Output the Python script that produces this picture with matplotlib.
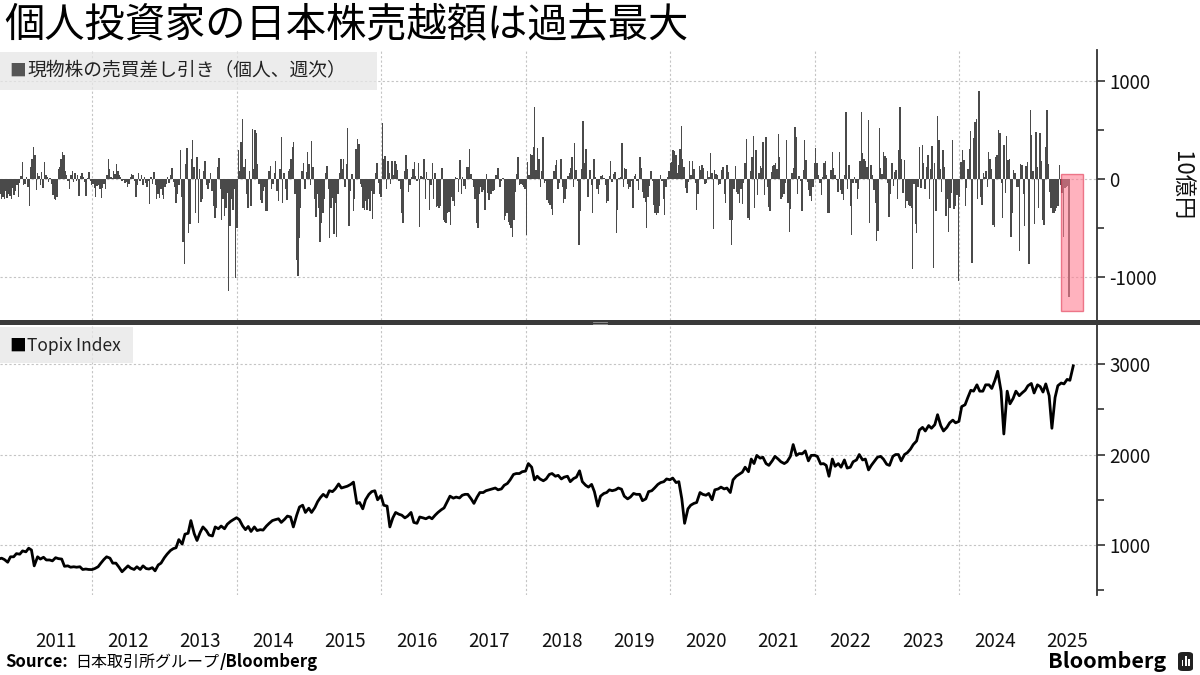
import numpy as np
import pandas as pd
import matplotlib
matplotlib.use('Agg')
import matplotlib.pyplot as plt
import matplotlib.dates as mdates
from matplotlib.patches import Rectangle, FancyBboxPatch
from matplotlib.ticker import MultipleLocator, FixedLocator, NullFormatter

plt.rcParams['font.family'] = ['Noto Sans CJK JP', 'DejaVu Sans']
plt.rcParams['axes.unicode_minus'] = False

# 個人の現物株売買差し引き（週次、10億円） 2010-09-24 から
net_flow = [
    -150, -200, -180, -210, -120, -190, -150, -170, -200, -90, -160, -120, -60, -180, -40,
    30, 177, -60, -50, 20, -80, -280, 120, 210, 330, 250, -110, 60, 30, -60,
    70, -90, 170, 40, 20, -30, 10, -50, -160, -200, -220, -180, 100, 120, 200,
    280, 250, 80, 40, -20, -100, 40, 80, -30, 60, -20, 40, -170, 30, 60,
    20, -30, -170, 10, 70, -20, -60, -50, -90, -180, -70, -60, -100, -190, -90,
    -50, -100, 40, 200, 100, 20, 10, 80, 50, 150, 80, 40, 20, -20, -10,
    -40, -30, -80, -50, 20, 50, 40, -20, -180, -60, 60, -20, 40, -60, 20,
    -40, -80, -20, -260, 20, -50, 70, -60, -200, -150, -190, -100, -160, -210, -80,
    -50, 20, -40, 40, 110, -30, -80, -250, -150, -60, 300, -180, -650, -870, 150,
    315, -550, -460, 200, 395, 120, -350, 230, -450, 100, -240, -200, 80, 180, -60,
    -100, -40, 60, -120, -280, -400, -300, 120, 220, -100, -420, -200, -380, -300, -140,
    -1150, -480, -200, -320, -100, -1010, -500, 300, 80, 380, 610, 120, 200, -150, -300,
    80, -280, 510, 100, 500, 475, 150, -50, -220, -250, -120, -80, -330, -330, 80,
    130, -100, -50, 60, 180, -120, -230, 100, 430, -250, 60, -100, -220, 80, 100,
    200, 330, 380, -150, -830, -990, -600, -300, 80, 160, -100, 70, 280, 150, -60,
    390, 120, -200, -385, -150, -300, -650, -450, -350, -200, 60, 130, -100, -600, -300,
    -190, -560, -250, -590, -150, 60, 200, 100, 210, -80, 150, 520, -480, -120, 50,
    -330, -200, 310, 410, 360, -50, -80, -300, -320, -230, -320, -210, -330, -120, -410,
    -150, 60, 160, -40, -150, -180, 570, 200, 240, -100, 180, 60, -50, 180, 40,
    180, 150, 90, -20,
    -100, -350, -450, 80, 250, 100, -130, -60, 20, 100, 170, 30, -20, 160, -490,
    30, 20, 210, -200, 70, -10, -320, -60, 160, -200, 60, -290, -280, -300, -280,
    110, -420, -440, -450, -350, -340, -475, -180, -230, -280, 20, 10, -130, 195, -150,
    20, -70, -100, 120, 120, 310, 50, -10, -80, -200, -450, -500, -150, -80, -130,
    -110, -320, 50, -140, -220, -150, -150, -120, -110, 40, 110, 110, -80, -20, 10,
    -420, -380, -350, -440, -470, -500, -590, -420, -130, 50, 230, -60, -50, -60, -80,
    -100, -570, 170, 40, 260, 250, 330, 740, 90, 320, 200, -80, 80, 430, -40,
    -20, -220, -250, -270, -310, -370, 80, 140, 190, -100, -40, 210, -80, -250, -210,
    -100, 30, 60, 110, 230, -80, 365, 90, -20, -675, -330, 100, 590, 160, 310,
    -180, -180, 90, -60, -350, 200, 20, -100, -150, -60, 30, 40, 10, -60, -250,
    -230, 30, 180, -30, 50, 75, -555, -320, 10, 20, 370, -80, 110, 100, -50,
    -100, -80, -20, -300, 30, 50, -20, -110, 230, 110, -130, -190, -240, -500, -180,
    -70, 80, -20, -270, -350, -370, -350, -280, 40, -20, -210, -370, -80, 20, 80,
    160, 170, 300, 290, 250, 60, 140, 310, 545, 200, 120, -90, -140, -30, 180,
    40, 180, 100, -40, -320, -150, 130, 90, 140, 110, -50, -40, 80, 20, 270,
    60, -510, 90, 50, 40, -60, -50, 90, 120, -150, -250, 140, 70, -420, -675,
    -420, -100, 130, -130, -150, -250, -100, -260, -40, 160, 410, -400, -420, 80, 230,
    440, -300, 300, -160, 60, 130, 110, 380, -160, 430, -80, -290, -330, 75, 130,
    140, 160, 100, 460, 230, -200, -180, -150, -40, 400, -250, -540, -310, 60, 110,
    535, 430, -150, 30, -20, -330, 90, 400, 190, -30, -110, -170, -230, -80, 160,
    320, 160, 40, -40, -160, 20, 160, 180, 40, -350, -350, 90, 280, 110, 40,
    -10, -130, 280, -110, -150, -220, 40, 690, -100, 140, -280, -570, -40, 20, -40,
    -200, -100, 180, 690, 270, 200, 180, 120, 600, -450, 140, 40, -110, -250, -640,
    -530, 520, 110, 50, 280, 240, 220, -40, -390, -150, 160, -70, 70, 90, -200,
    300, 740, 200, -140, 190, -300, -230, -270, -280, -300, -920, -50, -460, -550, -80,
    330, -90, 350, 160, -100, 120, 250, -210, 100, 340, -910, 160, -330, 650, 400,
    100, -130, 300, 120, -380, -210, -540, -300, -140, 400, -310, -280, -160, -1050, -180,
    170, 300, 190, -280, -90, 100, 310, 490, -860, 420, 580, 620, -200, 900, -180,
    -270, 60, 20, 80, -80, 280, 200, 100, -470, -490, 230, 250, 500, 470, -40,
    -400, 350, -140, 440, 190, 210, -590, -350, 90, 60, -80, -80, -740, 150, 140,
    -150, -480, 130, 170, -870, 710, 450, 80, -460, 480, 120, -300, 470, 180, -420,
    -470, 330, 710, 150, -130, -300, -350, -350, -330, -300, -280, 140, -60, -145, -590,
    -90, -80, -75, -1210,
]

# Topix 半月ごと（1日・15日）
topix_2010 = [845, 855, 840, 810, 870, 870, 905]
topix_2011 = [899, 935, 925, 965, 945, 770, 870, 845, 865, 835, 835, 825,
              860, 850, 845, 765, 770, 755, 760, 755, 760, 730, 735, 730]
topix_2012 = [729, 740, 760, 800, 840, 870, 855, 800, 800, 760, 705, 735,
              770, 745, 730, 760, 730, 770, 740, 735, 750, 715, 780, 800]
topix_2013 = [860, 900, 940, 960, 970, 1060, 1010, 1120, 1130, 1270, 1125, 1050,
              1140, 1200, 1160, 1110, 1100, 1200, 1180, 1210, 1180, 1230, 1260, 1280]
topix_2014 = [1302, 1280, 1210, 1170, 1205, 1150, 1200, 1160, 1170, 1165, 1210, 1240,
              1270, 1280, 1290, 1250, 1285, 1320, 1310, 1200, 1330, 1420, 1440, 1360]
topix_2015 = [1407, 1360, 1415, 1480, 1525, 1560, 1530, 1600, 1590, 1620, 1675, 1630,
              1640, 1650, 1670, 1695, 1460, 1470, 1400, 1500, 1560, 1590, 1600, 1500]
topix_2016 = [1547, 1440, 1430, 1200, 1300, 1360, 1340, 1330, 1300, 1320, 1360, 1250,
              1240, 1310, 1300, 1290, 1310, 1290, 1330, 1360, 1390, 1410, 1480, 1540]
topix_2017 = [1518, 1530, 1520, 1550, 1560, 1560, 1510, 1460, 1530, 1580, 1580, 1600,
              1610, 1620, 1630, 1610, 1620, 1660, 1680, 1720, 1780, 1790, 1790, 1810]
topix_2018 = [1817, 1900, 1860, 1720, 1760, 1730, 1710, 1730, 1780, 1790, 1760, 1770,
              1730, 1750, 1760, 1700, 1735, 1750, 1820, 1700, 1660, 1640, 1670, 1590]
topix_2019 = [1430, 1540, 1570, 1580, 1610, 1600, 1610, 1630, 1617, 1540, 1510, 1530,
              1570, 1560, 1560, 1490, 1510, 1590, 1600, 1630, 1670, 1690, 1700, 1730]
topix_2020 = [1721, 1740, 1690, 1700, 1510, 1240, 1400, 1440, 1460, 1470, 1580, 1560,
              1550, 1570, 1500, 1610, 1620, 1640, 1620, 1630, 1580, 1720, 1760, 1780]
topix_2021 = [1805, 1860, 1810, 1950, 1900, 1990, 1960, 1970, 1900, 1880, 1930, 1980,
              1950, 1920, 1900, 1920, 1980, 2110, 1990, 2010, 2010, 2040, 1930, 1990]
topix_2022 = [1992, 1980, 1895, 1900, 1880, 1760, 1950, 1870, 1900, 1860, 1940, 1850,
              1860, 1920, 1940, 2000, 1940, 1950, 1830, 1880, 1930, 1970, 1980, 1950]
topix_2023 = [1892, 1880, 1980, 2000, 2000, 1930, 2000, 2020, 2060, 2110, 2150, 2270,
              2300, 2260, 2320, 2290, 2330, 2440, 2320, 2260, 2300, 2350, 2380, 2350]
topix_2024 = [2366, 2530, 2550, 2630, 2710, 2700, 2770, 2700, 2700, 2770, 2770, 2730,
              2820, 2920, 2700, 2227, 2700, 2560, 2620, 2700, 2650, 2680, 2710, 2760]
topix_2025 = [2785, 2680, 2770, 2750, 2690, 2780, 2650, 2290, 2630, 2760, 2790, 2780,
              2830, 2820, 2980]

topix = (topix_2010 + topix_2011 + topix_2012 + topix_2013 + topix_2014 + topix_2015
         + topix_2016 + topix_2017 + topix_2018 + topix_2019 + topix_2020 + topix_2021
         + topix_2022 + topix_2023 + topix_2024 + topix_2025)
topix_dates = pd.date_range('2010-09-15', periods=len(topix), freq='SMS')
bar_dates = pd.date_range('2010-09-24', periods=len(net_flow), freq='7D')

years = list(range(2011, 2026))

W, H = 1200, 675
fig = plt.figure(figsize=(12, 6.75), dpi=100)

def fx(px):
    return px / W

def fy(py):
    return 1 - py / H

ax1 = fig.add_axes([0, fy(320), fx(1097), (320 - 50) / H])
ax2 = fig.add_axes([0, fy(595), fx(1097), (595 - 325) / H])

xmin = pd.Timestamp('2010-09-23')
xmax = pd.Timestamp('2025-11-29')

grid_kw = dict(color='#c4c4c4', linestyle=(0, (2, 2)), linewidth=0.8)

for ax in (ax1, ax2):
    ax.set_xlim(xmin, xmax)
    for s in ('left', 'top', 'bottom'):
        ax.spines[s].set_visible(False)
    ax.spines['right'].set_color('#333333')
    ax.spines['right'].set_linewidth(1.3)
    ax.yaxis.tick_right()
    ax.tick_params(axis='y', which='both', direction='out', colors='#333333',
                   labelcolor='#111111', labelsize=13.5, width=1.2, pad=3)
    ax.tick_params(axis='y', which='major', length=6)
    ax.tick_params(axis='y', which='minor', length=5)
    ax.xaxis.set_major_locator(mdates.YearLocator(2))
    ax.xaxis.set_major_formatter(NullFormatter())
    ax.xaxis.set_minor_locator(FixedLocator(
        [mdates.date2num(pd.Timestamp(f'{y}-07-02')) for y in years]))
    ax.tick_params(axis='x', which='both', length=0)
    ax.grid(axis='x', which='major', **grid_kw)
    ax.grid(axis='y', which='major', **grid_kw)
    ax.set_axisbelow(True)

# 上段：売買差し引き
ax1.bar(bar_dates, net_flow, width=7, color='#4a4a4a', linewidth=0, zorder=2)
ax1.set_ylim(-1445, 1322)
ax1.yaxis.set_major_locator(FixedLocator([-1000, 0, 1000]))
ax1.yaxis.set_minor_locator(FixedLocator([-500, 500]))
ax1.xaxis.set_minor_formatter(NullFormatter())
box_x0 = mdates.date2num(pd.Timestamp('2025-06-01'))
box_x1 = mdates.date2num(pd.Timestamp('2025-09-20'))
ax1.add_patch(Rectangle((box_x0, -1354), box_x1 - box_x0, 1405,
                        facecolor='#ff7f93', alpha=0.6, edgecolor='#e0344f',
                        linewidth=1.0, zorder=3))

# 下段：Topix
ax2.plot(topix_dates, topix, color='black', linewidth=2.0, zorder=3)
ax2.set_ylim(448, 3431)
ax2.yaxis.set_major_locator(MultipleLocator(1000))
ax2.yaxis.set_minor_locator(FixedLocator([500, 1500, 2500]))
ax2.xaxis.set_minor_formatter(mdates.DateFormatter('%Y'))
ax2.tick_params(axis='x', which='minor', labelsize=13.5, pad=26, labelcolor='#111111')

# 区切り線
fig.add_artist(Rectangle((0, fy(325)), 1, 4.5 / H, transform=fig.transFigure,
                         facecolor='#3a3a3a', edgecolor='none'))
for dy in (322.3, 323.8):
    fig.add_artist(plt.Line2D([fx(593), fx(607)], [fy(dy), fy(dy)],
                              transform=fig.transFigure, color='#9a9a9a', lw=0.6))

# タイトル
fig.text(fx(4), fy(25), '個人投資家の日本株売越額は過去最大', fontsize=29,
         color='black', va='center', ha='left')

# 凡例ボックス
fig.add_artist(Rectangle((0, fy(90)), fx(377), 38 / H, transform=fig.transFigure,
                         facecolor='#e6e6e6', alpha=0.75, edgecolor='none'))
fig.text(fx(9), fy(71), '■', fontsize=12, color='#555555', va='center', ha='left')
fig.text(fx(27), fy(71), '現物株の売買差し引き（個人、週次）', fontsize=13.5,
         color='#222222', va='center', ha='left')

fig.add_artist(Rectangle((0, fy(363)), fx(133), 36 / H, transform=fig.transFigure,
                         facecolor='#e6e6e6', alpha=0.75, edgecolor='none'))
fig.text(fx(9), fy(346), '■', fontsize=12, color='black', va='center', ha='left')
fig.text(fx(27), fy(346), 'Topix Index', fontsize=12.5, color='#222222',
         va='center', ha='left')

# 単位
fig.text(fx(1182), fy(186), '10億円', fontsize=16, rotation=270,
         rotation_mode='anchor', va='center', ha='center', color='#111111')

# 出典
fig.canvas.draw()
renderer = fig.canvas.get_renderer()
t1 = fig.text(fx(5), fy(662), 'Source:', fontsize=12, fontweight='bold',
              va='center', ha='left', color='black')
x_next = t1.get_window_extent(renderer).x1 + 8
t2 = fig.text(x_next / W, fy(662), '日本取引所グループ', fontsize=11.5,
              va='center', ha='left', color='black')
x_next = t2.get_window_extent(renderer).x1
fig.text(x_next / W, fy(662), '/Bloomberg', fontsize=12, fontweight='bold',
         va='center', ha='left', color='black')

# Bloomberg ロゴ
fig.text(fx(1166), fy(661), 'Bloomberg', fontsize=15.5, fontweight='bold',
         va='center', ha='right', color='black')
fig.add_artist(FancyBboxPatch((fx(1178), fy(671)), fx(15), 19 / H,
                              boxstyle='round,pad=0.0,rounding_size=0.004',
                              transform=fig.transFigure, facecolor='#222222',
                              edgecolor='none'))
for i, hgt in enumerate([6, 10, 7]):
    fig.add_artist(Rectangle((fx(1181.5 + i * 3.3), fy(666)), fx(1.8), hgt / H,
                             transform=fig.transFigure, facecolor='white',
                             edgecolor='none'))

fig.savefig('out.png', dpi=100)
